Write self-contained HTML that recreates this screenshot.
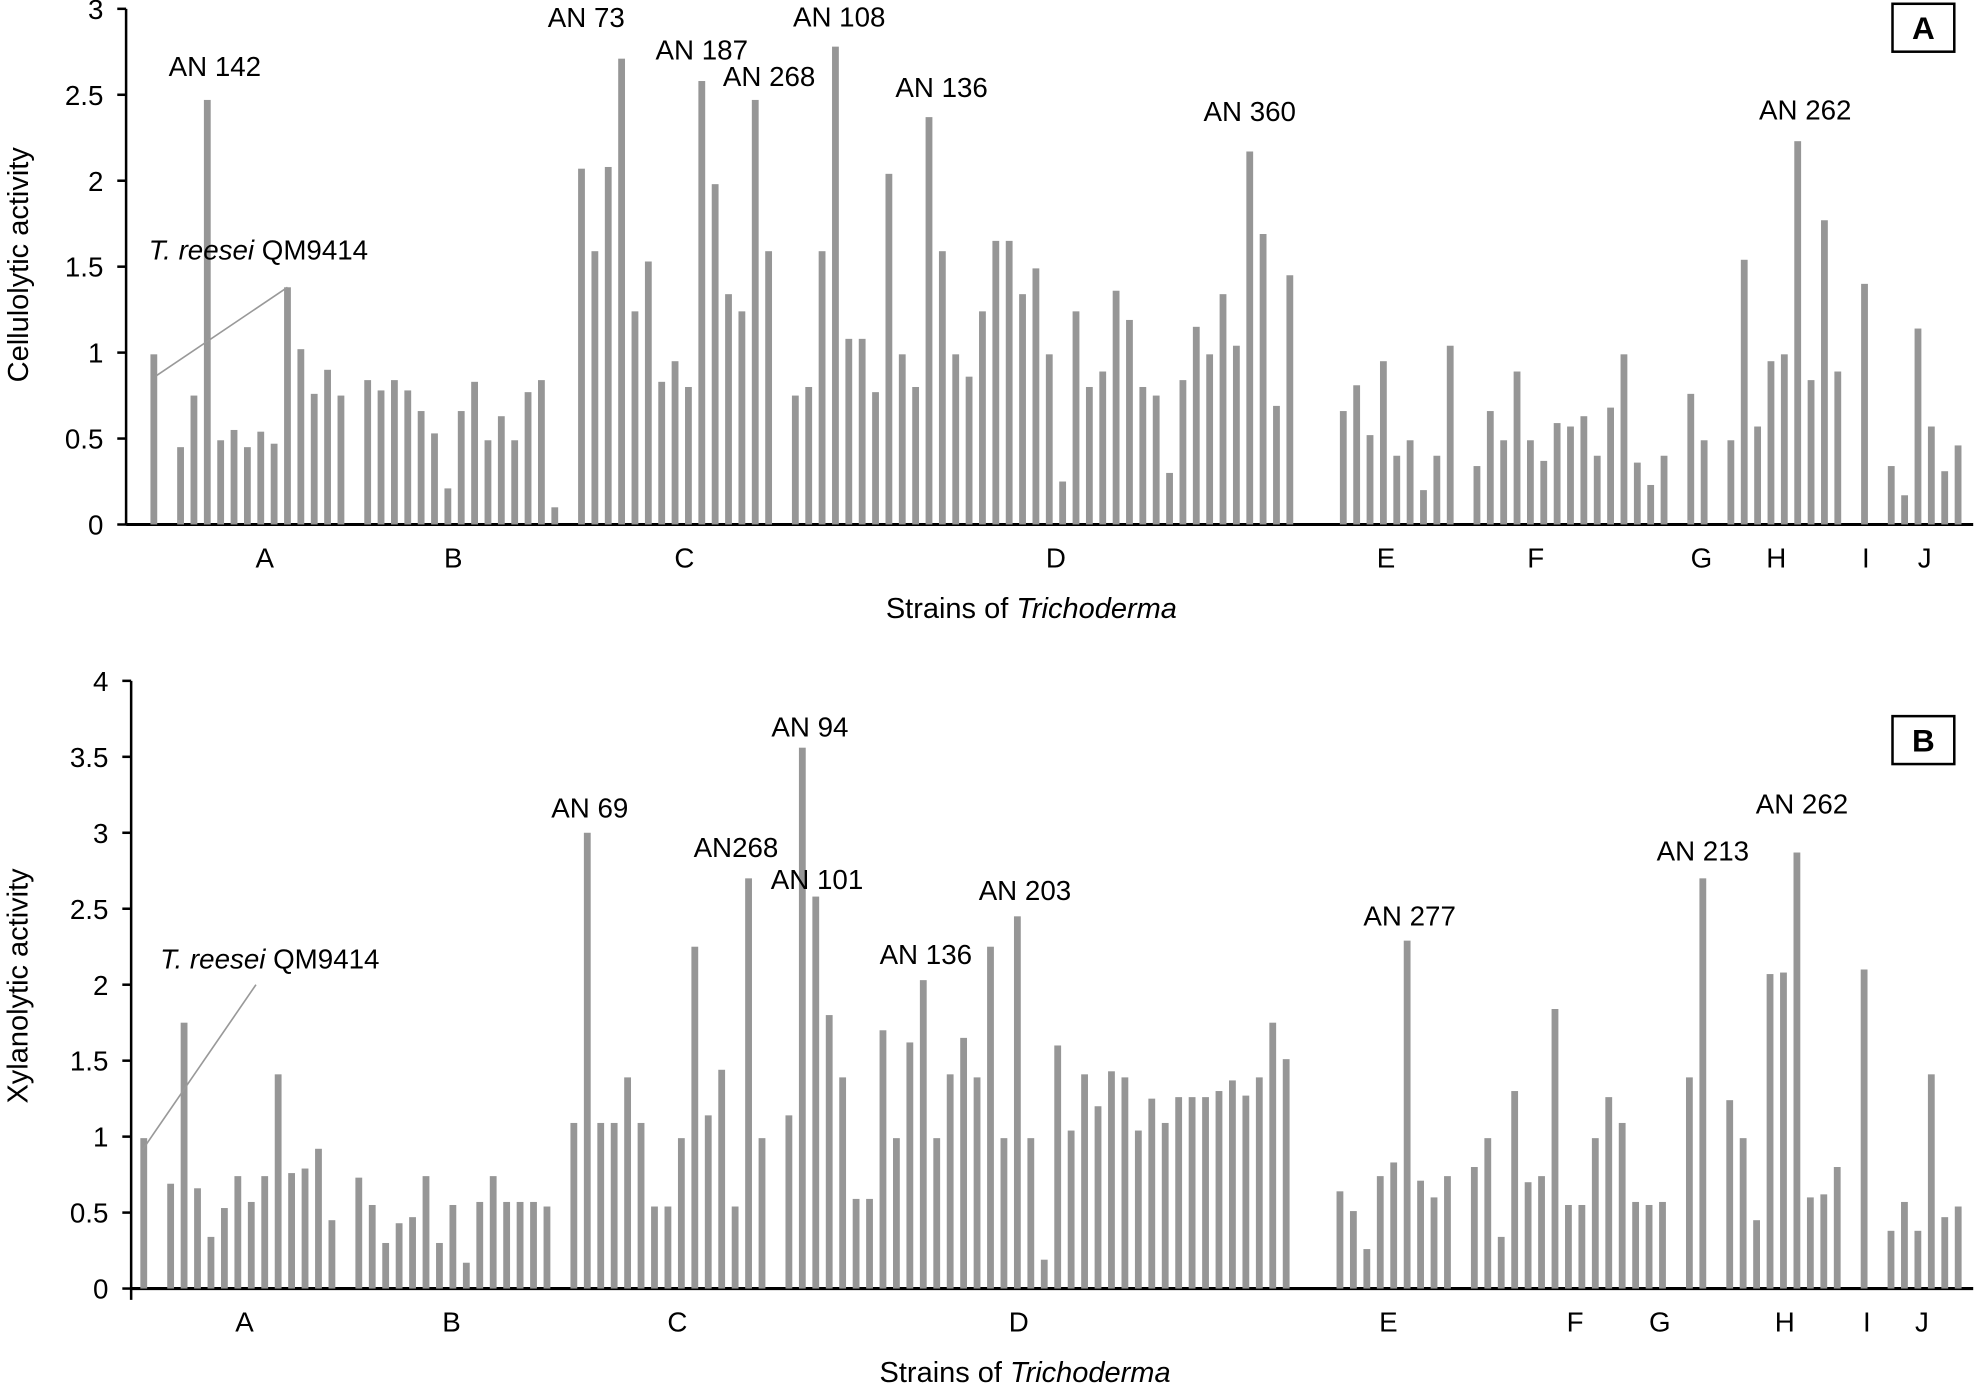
<!DOCTYPE html>
<html><head><meta charset="utf-8"><style>
html,body{margin:0;padding:0;background:#fff}
svg{display:block}
text{font-family:"Liberation Sans",Arial,sans-serif;fill:#000}
</style></head><body>
<svg id="chart" width="1977" height="1384" viewBox="0 0 1568 1097.7" xmlns="http://www.w3.org/2000/svg">
<g id="panelA"></g>
<g id="panelB"></g>
</svg>
<script>
// ---- data ----
const groups = ["A","B","C","D","E","F","G","H","I","J"];
// empty slots before each group (first entry = offset of first group)
const gapsBefore = [0,1,1,1,3,1,1,1,1,1];
const cellA = [0.99,null,0.45,0.75,2.47,0.49,0.55,0.45,0.54,0.47,1.38,1.02,0.76,0.90,0.75];
const cellB = [0.84,0.78,0.84,0.78,0.66,0.53,0.21,0.66,0.83,0.49,0.63,0.49,0.77,0.84,0.10];
const cellC = [2.07,1.59,2.08,2.71,1.24,1.53,0.83,0.95,0.80,2.58,1.98,1.34,1.24,2.47,1.59];
const cellD = [0.75,0.80,1.59,2.78,1.08,1.08,0.77,2.04,0.99,0.80,2.37,1.59,0.99,0.86,1.24,1.65,1.65,1.34,1.49,0.99,0.25,1.24,0.80,0.89,1.36,1.19,0.80,0.75,0.30,0.84,1.15,0.99,1.34,1.04,2.17,1.69,0.69,1.45];
const cellE = [0.66,0.81,0.52,0.95,0.40,0.49,0.20,0.40,1.04];
const cellF = [0.34,0.66,0.49,0.89,0.49,0.37,0.59,0.57,0.63,0.40,0.68,0.99,0.36,0.23,0.40];
const cellG = [0.76,0.49];
const cellH = [0.49,1.54,0.57,0.95,0.99,2.23,0.84,1.77,0.89];
const cellI = [1.40];
const cellJ = [0.34,0.17,1.14,0.57,0.31,0.46];
const xylA = [0.99,null,0.69,1.75,0.66,0.34,0.53,0.74,0.57,0.74,1.41,0.76,0.79,0.92,0.45];
const xylB = [0.73,0.55,0.30,0.43,0.47,0.74,0.30,0.55,0.17,0.57,0.74,0.57,0.57,0.57,0.54];
const xylC = [1.09,3.00,1.09,1.09,1.39,1.09,0.54,0.54,0.99,2.25,1.14,1.44,0.54,2.70,0.99];
const xylD = [1.14,3.56,2.58,1.80,1.39,0.59,0.59,1.70,0.99,1.62,2.03,0.99,1.41,1.65,1.39,2.25,0.99,2.45,0.99,0.19,1.60,1.04,1.41,1.20,1.43,1.39,1.04,1.25,1.09,1.26,1.26,1.26,1.30,1.37,1.27,1.39,1.75,1.51];
const xylE = [0.64,0.51,0.26,0.74,0.83,2.29,0.71,0.60,0.74];
const xylF = [0.80,0.99,0.34,1.30,0.70,0.74,1.84,0.55,0.55,0.99,1.26,1.09,0.57,0.55,0.57];
const xylG = [1.39,2.70];
const xylH = [1.24,0.99,0.45,2.07,2.08,2.87,0.60,0.62,0.80];
const xylI = [2.10];
const xylJ = [0.38,0.57,0.38,1.41,0.47,0.54];
const cellTicks = ["0","0.5","1","1.5","2","2.5","3"];
const xylTicks = ["0","0.5","1","1.5","2","2.5","3","3.5","4"];
const cellLabelSlot = [8.3,22.4,39.7,67.5,92.2,103.4,115.8,121.4,128.1,132.5];
const xylLabelSlot = [7.5,22.9,39.7,65.1,92.6,106.5,112.8,122.1,128.2,132.3];
// annotations: [text, group index, index within group]
const cellNotes = [["AN 142",0,4],["AN 73",2,3],["AN 187",2,9],["AN 268",2,13],["AN 108",3,3],["AN 136",3,10],["AN 360",3,34],["AN  262",7,5]];
const cellNoteDx = [6,-28,0,11,3,10,0,6];
const cellNoteDy = [-7,-13,-5,1,-4,-4,-12,-5];
const xylNotes = [["AN 69",2,1],["AN268",2,13],["AN 101",3,2],["AN 94",3,1],["AN 136",3,10],["AN 203",3,17],["AN 277",4,5],["AN 213",6,1],["AN 262",7,5]];
const xylNoteDx = [2,-10,1,6,2,6,2,0,4];
const xylNoteDy = [0,-5,6,3,-1,-1,0,-2,-19];

const NS="http://www.w3.org/2000/svg";
function el(parent,tag,attrs,txt){const e=document.createElementNS(NS,tag);for(const k in attrs)e.setAttribute(k,attrs[k]);if(txt!==undefined)e.textContent=txt;parent.appendChild(e);return e;}

function drawPanel(g,cfg){
  const yScale=v=>cfg.base-(v/cfg.max)*(cfg.base-cfg.top);
  const xSlot=s=>cfg.x0+s*cfg.step;
  let a=el(g,'line',{x1:cfg.axisX,y1:cfg.top,x2:cfg.axisX,y2:cfg.axisBottom,stroke:'#000','stroke-width':2});
  
  
  a=el(g,'line',{x1:cfg.axisX,y1:cfg.base,x2:1565,y2:cfg.base,stroke:'#000','stroke-width':2.4});
  
  
  cfg.ticks.forEach((t,i)=>{
    const v=i*0.5,y=yScale(v);
    const tk=el(g,'line',{x1:cfg.axisX-7,y1:y,x2:cfg.axisX,y2:y,stroke:'#000','stroke-width':2});
    
    
    const tl=el(g,'text',{x:cfg.axisX-18,y:y+8,'font-size':22,'text-anchor':'end'},t);
    
    
  });
  let slot=0;const pos=[];
  groups.forEach((gn,gi)=>{
    slot+=gapsBefore[gi];
    const vals=cfg.series[gi];const p=[];
    vals.forEach((v,j)=>{
      const x=xSlot(slot);p.push({x:x,v:v});
      if(v!==null){
        const b=el(g,'rect',{x:x-2.7,y:yScale(v),width:5.4,height:cfg.base-yScale(v),fill:'#969696'});
        
        
      }
      slot++;
    });
    pos.push(p);
    const gl=el(g,'text',{x:xSlot(cfg.labelSlot[gi]),y:cfg.base+34,'font-size':22,'text-anchor':'middle'},gn);
    
    
  });
  cfg.notes.forEach((n,i)=>{
    const p=pos[n[1]][n[2]];
    const t=el(g,'text',{x:p.x+cfg.noteDx[i],y:yScale(p.v)-cfg.noteGap+cfg.noteDy[i],'font-size':22,'text-anchor':'middle','xml:space':'preserve'},n[0]);
    
    
  });
  return {pos:pos,yScale:yScale};
}

const A=drawPanel(document.getElementById('panelA'),{
  axisX:100,top:7,base:416,axisBottom:416,max:3,x0:122,step:10.6,ticks:cellTicks,
  series:[cellA,cellB,cellC,cellD,cellE,cellF,cellG,cellH,cellI,cellJ],
  labelSlot:cellLabelSlot,notes:cellNotes,noteDx:cellNoteDx,noteDy:cellNoteDy,noteGap:12});
const B=drawPanel(document.getElementById('panelB'),{
  axisX:104,top:540,base:1022,axisBottom:1031,max:4,x0:114,step:10.66,ticks:xylTicks,
  series:[xylA,xylB,xylC,xylD,xylE,xylF,xylG,xylH,xylI,xylJ],
  labelSlot:xylLabelSlot,notes:xylNotes,noteDx:xylNoteDx,noteDy:xylNoteDy,noteGap:12});

const gA=document.getElementById('panelA'),gB=document.getElementById('panelB');
let q=el(gA,'line',{x1:124,y1:298,x2:A.pos[0][10].x,y2:A.yScale(cellA[10]),stroke:'#999','stroke-width':1.3});


q=el(gA,'text',{x:118,y:206,'font-size':22},'');


el(q,'tspan',{'font-style':'italic'},'T. reesei');el(q,'tspan',{},' QM9414');
q=el(gB,'line',{x1:113,y1:912,x2:203,y2:781,stroke:'#999','stroke-width':1.3});


q=el(gB,'text',{x:127,y:768,'font-size':22},'');


el(q,'tspan',{'font-style':'italic'},'T. reesei');el(q,'tspan',{},' QM9414');

function title(g,x,y,rot,parts,name){
  const t=el(g,'text',{x:x,y:y,'font-size':23,'text-anchor':'middle',transform:rot?`rotate(-90 ${x} ${y})`:''});
  
  
  parts.forEach(p=>el(t,'tspan',p[1]?{'font-style':'italic'}:{},p[0]));
}
title(gA,22,210,true,[["Cellulolytic activity",0]],'y-axis-title');
title(gB,22,782,true,[["Xylanolytic activity",0]],'y-axis-title');
title(gA,818,490,false,[["Strains of ",0],["Trichoderma",1]],'x-axis-title');
title(gB,813,1096,false,[["Strains of ",0],["Trichoderma",1]],'x-axis-title');

function box(g,y,letter){
  const r=el(g,'rect',{x:1501,y:y,width:49,height:38,fill:'#fff',stroke:'#000','stroke-width':2});
  
  
  const t=el(g,'text',{x:1525.5,y:y+28,'font-size':25,'font-weight':'bold','text-anchor':'middle'},letter);
  
  
}
box(gA,3,'A');box(gB,568,'B');
</script>
</body></html>
